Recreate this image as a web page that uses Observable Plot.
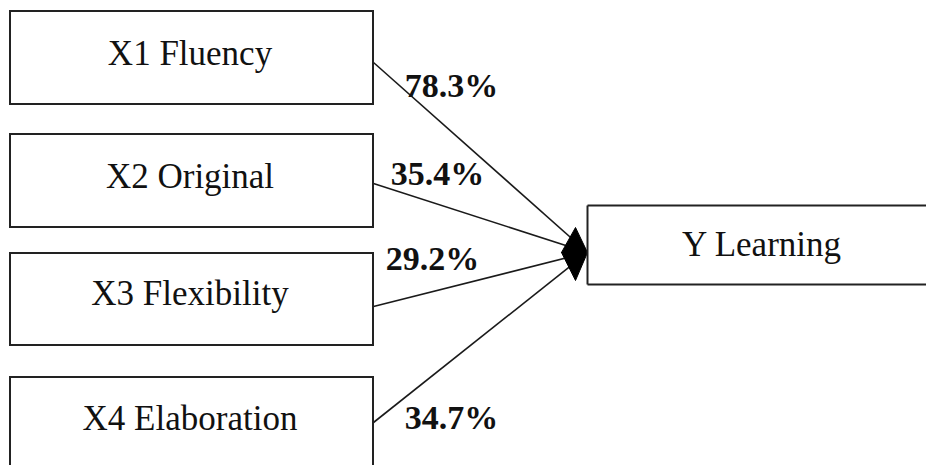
<!DOCTYPE html>
<html>
<head>
<meta charset="utf-8">
<script src="https://cdn.jsdelivr.net/npm/d3@7"></script>
<script src="https://cdn.jsdelivr.net/npm/@observablehq/plot@0.6"></script>
<style>
  html, body { margin: 0; padding: 0; background: #fff; overflow: hidden; }
</style>
</head>
<body>
<div id="chart"></div>
<script>
// Data
const predictors = ["X1 Fluency", "X2 Original", "X3 Flexibility", "X4 Elaboration"];
const outcome = "Y Learning";
const contributions = ["78.3%", "35.4%", "29.2%", "34.7%"];

// Layout (diagram geometry, pixel coordinates)
const boxLeft = [10, 10, 10, 10];
const boxRight = [373, 373, 373, 373];
const boxTop = [11, 134, 253, 377];
const boxBottom = [104, 227, 345, 475];
const boxTextY = [53, 176, 293, 418];
const linkStartY = [62, 183, 306, 422];
const labelX = [451, 437, 432, 451];
const labelY = [86, 174, 259, 418];
const outBox = {x1: 587, x2: 940, y1: 205, y2: 284, tx: 761, ty: 244};
const target = {x: 587, y: 252};
const head = [[561, 252], [575, 227], [587, 252], [575, 280], [561, 252]];

const SERIF = "Liberation Serif, Times New Roman, Times, DejaVu Serif, serif";

const nodes = predictors.map((name, i) => ({
  name, x1: boxLeft[i], x2: boxRight[i], y1: boxTop[i], y2: boxBottom[i],
  tx: (boxLeft[i] + boxRight[i]) / 2 - 2, ty: boxTextY[i]
}));
const links = contributions.map((c, i) => ({
  label: c, x1: boxRight[i], y1: linkStartY[i], x2: target.x, y2: target.y,
  lx: labelX[i], ly: labelY[i]
}));
const headPts = head.map(([x, y]) => ({x, y}));
// outcome box edges (right edge lies beyond the picture)
const outEdges = [
  {x1: outBox.x1, y1: outBox.y1, x2: outBox.x2, y2: outBox.y1},
  {x1: outBox.x1, y1: outBox.y2, x2: outBox.x2, y2: outBox.y2},
  {x1: outBox.x1, y1: outBox.y1, x2: outBox.x1, y2: outBox.y2}
];

const chart = Plot.plot({
  width: 926,
  height: 465,
  margin: 0,
  x: {domain: [0, 926], axis: null},
  y: {domain: [0, 465], reverse: true, axis: null},
  style: {background: "#fff", fontFamily: SERIF},
  marks: [
    Plot.link(links, {x1: "x1", y1: "y1", x2: "x2", y2: "y2", stroke: "#1a1a1a", strokeWidth: 1.6}),
    Plot.line(headPts, {x: "x", y: "y", fill: "#000", stroke: "#000", strokeWidth: 1}),
    Plot.rect(nodes, {x1: "x1", x2: "x2", y1: "y1", y2: "y2", fill: "#fff", stroke: "#222", strokeWidth: 2}),
    Plot.link(outEdges, {x1: "x1", y1: "y1", x2: "x2", y2: "y2", stroke: "#222", strokeWidth: 2}),
    Plot.text(nodes, {x: "tx", y: "ty", text: "name", fontSize: 35, fontFamily: SERIF, fill: "#111", textAnchor: "middle"}),
    Plot.text([outBox], {x: "tx", y: "ty", text: () => outcome, fontSize: 35, fontFamily: SERIF, fill: "#111", textAnchor: "middle"}),
    Plot.text(links, {x: "lx", y: "ly", text: "label", fontSize: 34, fontFamily: SERIF, fontWeight: "bold", fill: "#111", textAnchor: "middle"})
  ]
});
document.getElementById("chart").appendChild(chart);
</script>
</body>
</html>
